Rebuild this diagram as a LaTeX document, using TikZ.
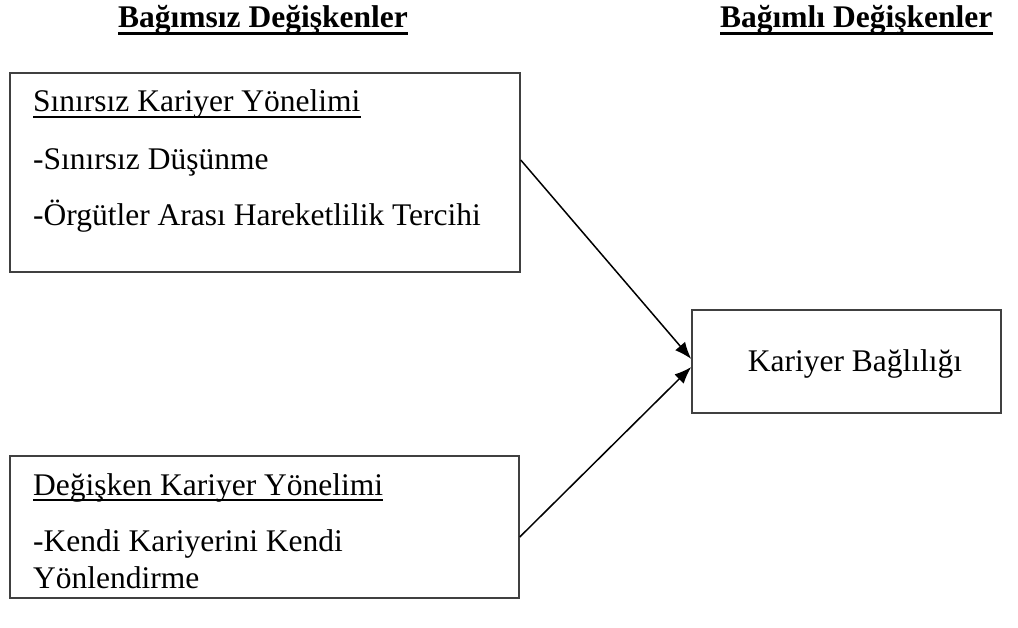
\documentclass[tikz,border=0pt]{standalone}
\usepackage{fontspec}
\setmainfont{Liberation Serif}
\usetikzlibrary{arrows.meta}
\tikzset{
  boxframe/.style={draw=black!75, line width=1.5pt},
  txt/.style={anchor=base west, inner sep=0pt, font=\fontsize{31.5}{38}\selectfont},
  ttl/.style={anchor=base west, inner sep=0pt, font=\fontsize{31.5}{38}\selectfont\bfseries},
  conn/.style={line width=1.5pt, -{Latex[length=17pt,width=13pt]}},
  thickul/.style={line width=3pt},
  thinul/.style={line width=1.6pt},
}
\begin{document}
\begin{tikzpicture}[x=1pt,y=-1pt]
\useasboundingbox (0,0) rectangle (1018,628);
% titles
\node[ttl] (t1) at (118,28) {Bağımsız Değişkenler};
\node[ttl] (t2) at (720,28) {Bağımlı Değişkenler};
\draw[thickul] ([yshift=-6pt]t1.base west) -- ([yshift=-6pt]t1.base east);
\draw[thickul] ([yshift=-6pt]t2.base west) -- ([yshift=-6pt]t2.base east);
% boxes
\node[boxframe, minimum width=510pt, minimum height=199pt, inner sep=0pt] (b1) at (265,172.5) {};
\node[boxframe, minimum width=509pt, minimum height=142pt, inner sep=0pt] (b2) at (264.5,527) {};
\node[boxframe, minimum width=309pt, minimum height=103pt, inner sep=0pt] (b3) at (846.5,361.5) {};
% box 1 text
\node[txt] (l11) at (33,112) {Sınırsız Kariyer Yönelimi};
\draw[thinul] ([yshift=-5pt]l11.base west) -- ([yshift=-5pt]l11.base east);
\node[txt] (l12) at (33,170) {-Sınırsız Düşünme};
\node[txt] (l13) at (33,226) {-Örgütler Arası Hareketlilik Tercihi};
% box 2 text
\node[txt] (l21) at (33,495) {Değişken Kariyer Yönelimi};
\draw[thinul] ([yshift=-5pt]l21.base west) -- ([yshift=-5pt]l21.base east);
\node[txt] (l22) at (33,551) {-Kendi Kariyerini Kendi};
\node[txt] (l23) at (33,588) {Yönlendirme};
% box 3 text
\node[txt, anchor=base] (l31) at (855,372) {Kariyer Bağlılığı};
% connectors
\coordinate (s1) at (b1.east |- 0,160);
\coordinate (s2) at (b2.east |- 0,537);
\coordinate (e1) at (b3.west |- 0,359);
\coordinate (e2) at (b3.west |- 0,367);
\draw[conn] (s1) -- (e1);
\draw[conn] (s2) -- (e2);
\end{tikzpicture}
\end{document}
